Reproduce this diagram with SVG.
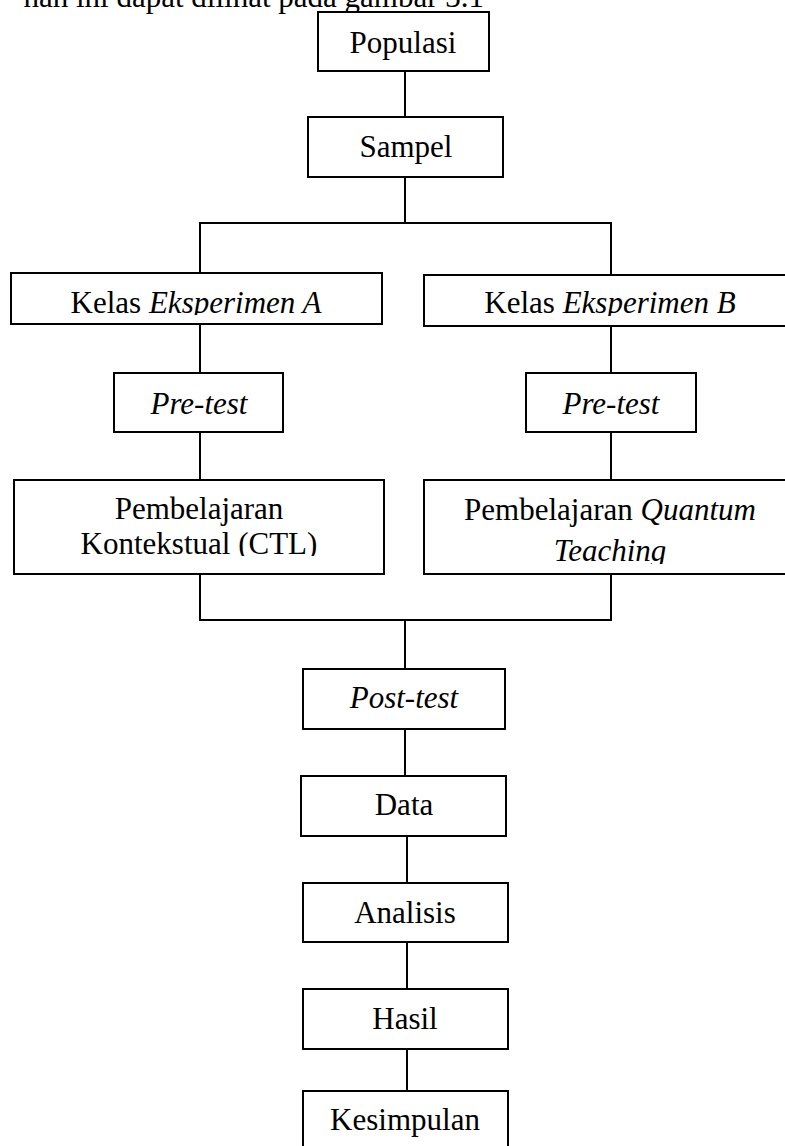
<svg xmlns="http://www.w3.org/2000/svg" width="785" height="1146" viewBox="0 0 785 1146">
<style>
.box{fill:#fff;stroke:#000;stroke-width:2}
.ln{stroke:#000;stroke-width:2;fill:none}
text{font-family:"Liberation Serif","Times New Roman",serif;font-size:31px;fill:#000}
.c{text-anchor:middle}
.i{font-style:italic}
</style>
<defs>
<clipPath id="clipA"><rect x="11" y="273" width="371" height="42"/></clipPath>
<clipPath id="clipB"><rect x="424" y="275" width="380" height="41"/></clipPath>
<clipPath id="clipCTL"><rect x="14" y="480" width="370" height="76"/></clipPath>
<clipPath id="clipQ"><rect x="424" y="480" width="380" height="84"/></clipPath>
</defs>
<rect width="785" height="1146" fill="#fff"/>
<text x="484" y="7" text-anchor="end" font-size="33.5">han ini dapat dilihat pada gambar 3.1</text>
<g id="connectors">
<line class="ln" x1="405" y1="71" x2="405" y2="117"/>
<line class="ln" x1="405" y1="177" x2="405" y2="223"/>
<line class="ln" x1="199" y1="223" x2="612" y2="223"/>
<line class="ln" x1="200" y1="223" x2="200" y2="273"/>
<line class="ln" x1="611" y1="223" x2="611" y2="275"/>
<line class="ln" x1="200" y1="324" x2="200" y2="373"/>
<line class="ln" x1="611" y1="326" x2="611" y2="373"/>
<line class="ln" x1="200" y1="432" x2="200" y2="480"/>
<line class="ln" x1="611" y1="432" x2="611" y2="480"/>
<line class="ln" x1="200" y1="574" x2="200" y2="620"/>
<line class="ln" x1="611" y1="574" x2="611" y2="620"/>
<line class="ln" x1="199" y1="620" x2="612" y2="620"/>
<line class="ln" x1="405" y1="620" x2="405" y2="669"/>
<line class="ln" x1="405" y1="729" x2="405" y2="776"/>
<line class="ln" x1="407" y1="836" x2="407" y2="883"/>
<line class="ln" x1="407" y1="942" x2="407" y2="989"/>
<line class="ln" x1="407" y1="1049" x2="407" y2="1091"/>
</g>
<g id="populasi">
<rect class="box" x="318" y="12" width="171" height="59"/>
<text class="c" x="403" y="53">Populasi</text>
</g>
<g id="sampel">
<rect class="box" x="308" y="117" width="195" height="60"/>
<text class="c" x="406" y="157">Sampel</text>
</g>
<g id="kelasA">
<rect class="box" x="11" y="273" width="371" height="51"/>
<text class="c" x="196" y="313" clip-path="url(#clipA)">Kelas <tspan class="i">Eksperimen A</tspan></text>
</g>
<g id="kelasB">
<rect class="box" x="424" y="275" width="380" height="51"/>
<text class="c" x="610" y="313" clip-path="url(#clipB)">Kelas <tspan class="i">Eksperimen B</tspan></text>
</g>
<g id="pretestA">
<rect class="box" x="114" y="373" width="169" height="59"/>
<text class="c i" x="199" y="414">Pre-test</text>
</g>
<g id="pretestB">
<rect class="box" x="526" y="373" width="170" height="59"/>
<text class="c i" x="611" y="414">Pre-test</text>
</g>
<g id="ctl">
<rect class="box" x="14" y="480" width="370" height="94"/>
<g clip-path="url(#clipCTL)">
<text class="c" x="199" y="519">Pembelajaran</text>
<text class="c" x="199" y="554">Kontekstual (CTL)</text>
</g>
</g>
<g id="quantum">
<rect class="box" x="424" y="480" width="380" height="94"/>
<g clip-path="url(#clipQ)">
<text class="c" x="610" y="520">Pembelajaran <tspan class="i">Quantum</tspan></text>
<text class="c i" x="610" y="561">Teaching</text>
</g>
</g>
<g id="posttest">
<rect class="box" x="303" y="669" width="202" height="60"/>
<text class="c i" x="404" y="708">Post-test</text>
</g>
<g id="data">
<rect class="box" x="301" y="776" width="205" height="60"/>
<text class="c" x="404" y="815">Data</text>
</g>
<g id="analisis">
<rect class="box" x="303" y="883" width="205" height="59"/>
<text class="c" x="405" y="923">Analisis</text>
</g>
<g id="hasil">
<rect class="box" x="303" y="989" width="205" height="60"/>
<text class="c" x="405" y="1029">Hasil</text>
</g>
<g id="kesimpulan">
<rect class="box" x="303" y="1091" width="205" height="70"/>
<text class="c" x="405" y="1130">Kesimpulan</text>
</g>
</svg>
